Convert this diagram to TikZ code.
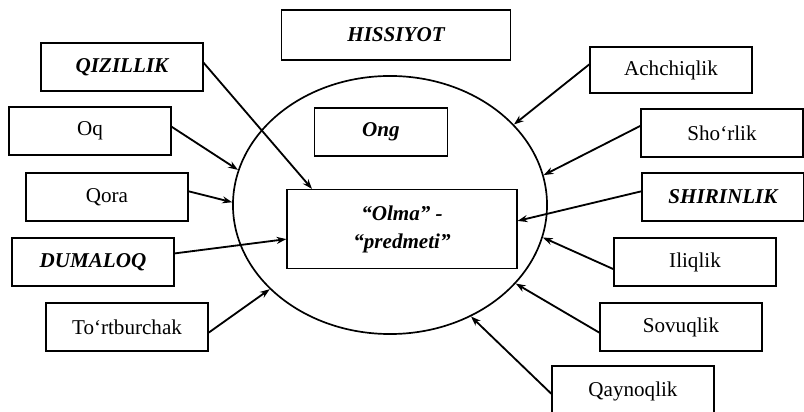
\documentclass[tikz,border=0pt]{standalone}
\usepackage{fontspec}
\setmainfont{Liberation Serif}
\usetikzlibrary{shapes.geometric,arrows.meta}

\begin{document}
\begin{tikzpicture}[>={Stealth[length=7pt,width=5pt]},x=0.025cm,y=-0.025cm,
    belgi/.style={draw,line width=0.8pt,minimum width=4.05cm,minimum height=1.2cm,inner sep=0pt,font=\fontsize{15}{20}\selectfont},
    asosiy/.style={belgi,font=\fontsize{15}{20}\selectfont\bfseries\itshape},
    strelka/.style={->,line width=1.3pt}]
  \useasboundingbox (0,0) rectangle (804,412);
  % markaziy doira
  \node[draw,ellipse,line width=1.2pt,minimum width=7.85cm,minimum height=6.45cm,inner sep=0pt] (doira) at (390,205) {};
  \node[asosiy,minimum width=5.725cm,minimum height=1.25cm] (hissiyot) at (396,35) {HISSIYOT};
  \node[asosiy,minimum width=3.325cm] (ong) at (381,132) {Ong};
  \node[asosiy,minimum width=5.75cm,minimum height=1.975cm,align=center] (olma) at (402,229) {“Olma” -\\“predmeti”};
  % chap tomon
  \node[asosiy] (qizil) at (122,67) {QIZILLIK};
  \node[belgi] (oq) at (90,131) {Oq};
  \node[belgi] (qora) at (107,197) {Qora};
  \node[asosiy] (dumaloq) at (93,262) {DUMALOQ};
  \node[belgi] (tortburchak) at (127,327) {To‘rtburchak};
  % o'ng tomon
  \node[belgi,minimum height=1.15cm] (achchiq) at (671,70) {Achchiqlik};
  \node[belgi] (shorlik) at (722,133) {Sho‘rlik};
  \node[asosiy] (shirin) at (723,197) {SHIRINLIK};
  \node[belgi] (iliq) at (695,262) {Iliqlik};
  \node[belgi] (sovuq) at (681,327) {Sovuqlik};
  \node[belgi,minimum height=1.25cm] (qaynoq) at (633,391) {Qaynoqlik};
  % strelkalar
  \draw[strelka] (qizil.3) -- (olma.156);
  \draw[strelka] (oq.3) -- (doira.167);
  \draw[strelka] (qora.4) -- (doira.179);
  \draw[strelka] (dumaloq.6) -- (olma.185);
  \draw[strelka] (tortburchak.356) -- (doira.215);
  \draw[strelka] (achchiq.176) -- (doira.33);
  \draw[strelka] (shorlik.175) -- (doira.11);
  \draw[strelka] (shirin.176) -- (olma.4);
  \draw[strelka] (iliq.185) -- (doira.348);
  \draw[strelka] (sovuq.184) -- (doira.328);
  \draw[strelka] (qaynoq.182) -- (doira.306);
\end{tikzpicture}
\end{document}
